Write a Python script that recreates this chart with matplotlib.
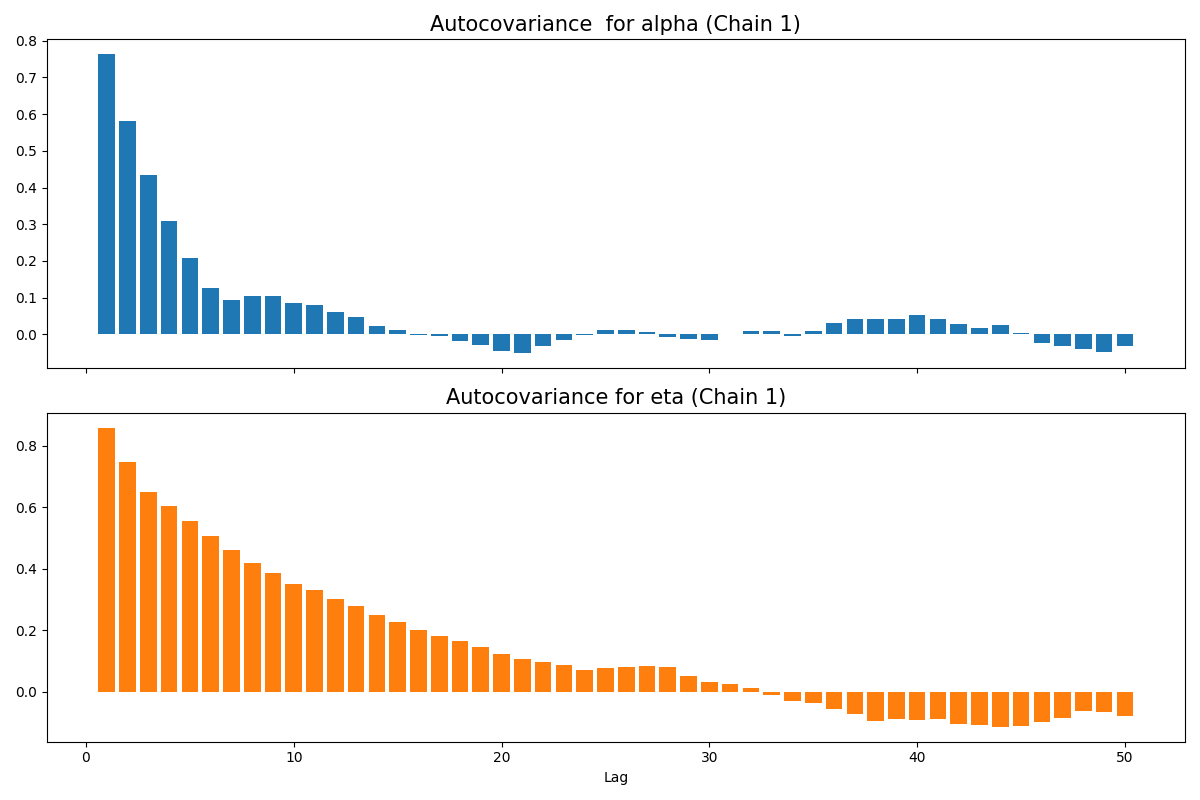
import numpy as np
import matplotlib
matplotlib.use("Agg")
import matplotlib.pyplot as plt

lags = np.arange(1, 51)

alpha_acov = [0.763, 0.580, 0.433, 0.308, 0.207, 0.125, 0.095, 0.104, 0.104, 0.085,
              0.079, 0.060, 0.046, 0.022, 0.011, -0.002, -0.004, -0.019, -0.030, -0.044,
              -0.052, -0.033, -0.016, -0.003, 0.011, 0.011, 0.006, -0.007, -0.012, -0.015,
              0.002, 0.008, 0.008, -0.004, 0.008, 0.030, 0.041, 0.041, 0.041, 0.052,
              0.041, 0.027, 0.017, 0.025, 0.005, -0.024, -0.032, -0.040, -0.048, -0.032]

eta_acov = [0.859, 0.748, 0.650, 0.605, 0.556, 0.507, 0.462, 0.420, 0.387, 0.351,
            0.332, 0.302, 0.280, 0.250, 0.228, 0.202, 0.182, 0.166, 0.146, 0.124,
            0.107, 0.098, 0.088, 0.072, 0.078, 0.081, 0.085, 0.081, 0.052, 0.033,
            0.026, 0.013, -0.010, -0.029, -0.036, -0.055, -0.072, -0.094, -0.088, -0.091,
            -0.088, -0.104, -0.107, -0.114, -0.111, -0.098, -0.085, -0.062, -0.065, -0.078]

fig, (ax1, ax2) = plt.subplots(2, 1, figsize=(12, 8), sharex=True)

ax1.bar(lags, alpha_acov, color="C0")
ax1.set_title("Autocovariance  for alpha (Chain 1)", fontsize=15)

ax2.bar(lags, eta_acov, color="C1")
ax2.set_title("Autocovariance for eta (Chain 1)", fontsize=15)
ax2.set_xlabel("Lag")

plt.tight_layout()
plt.savefig("out.png", dpi=100)
